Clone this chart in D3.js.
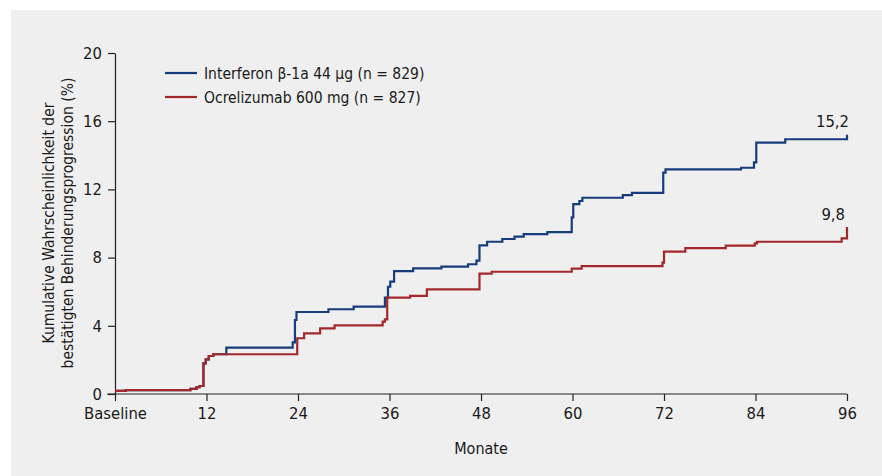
<!DOCTYPE html>
<html>
<head>
<meta charset="utf-8">
<script src="https://cdn.jsdelivr.net/npm/d3@7"></script>
<style>
  body { margin: 0; background: #fff; }
  svg { display: block; }
  text { font-family: "Liberation Sans Narrow", "Arial Narrow", "DejaVu Sans Condensed", sans-serif; fill: #1a1a1a; }
</style>
</head>
<body>
<script>
// Kaplan-Meier Stufen (Monat, kumulative Wahrscheinlichkeit %)
const ocreMonths = [0, 1.4, 9.9, 10.7, 11.1, 11.6, 11.9, 12.3, 12.9, 23.9, 24.8, 26.9, 28.8, 35.1, 35.4, 35.7, 38.7, 40.9, 47.8, 49.4, 59.9, 61.2, 71.8, 72.0, 74.8, 80.1, 83.9, 84.2, 95.3, 96];
const ocreValues = [0.18, 0.23, 0.3, 0.4, 0.47, 1.8, 2.03, 2.23, 2.33, 3.27, 3.56, 3.85, 4.03, 4.24, 4.38, 5.65, 5.75, 6.14, 7.06, 7.17, 7.35, 7.5, 7.7, 8.35, 8.55, 8.7, 8.84, 8.93, 9.13, 9.8];

const ifnMonths = [0, 1.4, 9.9, 10.7, 11.1, 11.6, 11.9, 12.3, 12.9, 14.6, 23.3, 23.6, 23.8, 28.0, 31.3, 35.4, 35.8, 36.1, 36.6, 39.1, 42.8, 46.3, 47.4, 47.8, 48.8, 50.8, 52.4, 53.6, 56.7, 59.9, 60.1, 60.9, 61.3, 66.6, 67.8, 71.9, 72.2, 82.1, 83.8, 84.1, 87.9, 96];
const ifnValues = [0.18, 0.23, 0.3, 0.4, 0.47, 1.8, 2.03, 2.23, 2.33, 2.72, 3.03, 4.34, 4.81, 4.97, 5.12, 5.65, 6.29, 6.59, 7.21, 7.37, 7.47, 7.61, 7.82, 8.72, 8.93, 9.09, 9.23, 9.38, 9.5, 10.36, 11.14, 11.32, 11.51, 11.67, 11.8, 12.98, 13.17, 13.27, 13.59, 14.74, 14.94, 15.2];

const xTicks = [0, 12, 24, 36, 48, 60, 72, 84, 96];
const yTicks = [0, 4, 8, 12, 16, 20];
const seriesNames = ["Interferon β-1a 44 µg (n = 829)", "Ocrelizumab 600 mg (n = 827)"];
const endLabels = ["15,2", "9,8"];

const w = 882, h = 476;
const blue = "#173c7c", red = "#a3282b";
const fs = 15.5;

const svg = d3.select("body").append("svg")
  .attr("width", w)
  .attr("height", h);

svg.append("rect")
  .attr("x", 11).attr("y", 10)
  .attr("width", w - 11).attr("height", h - 10)
  .attr("fill", "#efefef");

const x = d3.scaleLinear().domain([0, 96]).range([115, 847]);
const y = d3.scaleLinear().domain([0, 20]).range([394, 53]);

// Achsen
const xAxis = d3.axisBottom(x)
  .tickValues(xTicks)
  .tickSize(7)
  .tickSizeOuter(0)
  .tickPadding(6)
  .tickFormat(d => d === 0 ? "Baseline" : d);

const gx = svg.append("g")
  .attr("transform", "translate(0," + y(0) + ")")
  .call(xAxis);

const yAxis = d3.axisLeft(y)
  .tickValues(yTicks)
  .tickSize(7)
  .tickSizeOuter(0)
  .tickPadding(6);

const gy = svg.append("g")
  .attr("transform", "translate(" + x(0) + ",0)")
  .call(yAxis);

[gx, gy].forEach(g => {
  g.selectAll("path, line").attr("stroke", "#222").attr("stroke-width", 1.2);
  g.selectAll("text")
    .attr("font-family", "Liberation Sans Narrow, Arial Narrow, DejaVu Sans Condensed, sans-serif")
    .attr("font-size", 16.5)
    .attr("fill", "#1a1a1a");
});
// x-Linie nach links bis unter die y-Ticks
gx.select(".domain").attr("d", "M" + (x(0) - 8) + ",0H" + x(96));

svg.append("text")
  .attr("x", 481)
  .attr("y", 454)
  .attr("text-anchor", "middle")
  .attr("font-size", 16)
  .text("Monate");

const yl = svg.append("text")
  .attr("transform", "translate(54,223) rotate(-90)")
  .attr("text-anchor", "middle")
  .attr("font-size", fs);
yl.append("tspan").attr("x", 0).attr("dy", 0).text("Kumulative Wahrscheinlichkeit der");
yl.append("tspan").attr("x", 0).attr("dy", 19).text("bestätigten Behinderungsprogression (%)");

// Kurven
const line = d3.line()
  .x(d => x(d[0]))
  .y(d => y(d[1]))
  .curve(d3.curveStepAfter);

const ifn = ifnMonths.map((m, i) => [m, ifnValues[i]]);
const ocre = ocreMonths.map((m, i) => [m, ocreValues[i]]);

svg.append("path")
  .datum(ifn)
  .attr("d", line)
  .attr("fill", "none")
  .attr("stroke", blue)
  .attr("stroke-width", 2.2);

svg.append("path")
  .datum(ocre)
  .attr("d", line)
  .attr("fill", "none")
  .attr("stroke", red)
  .attr("stroke-width", 2.2);

// Endwerte
svg.append("text")
  .attr("x", 849).attr("y", 127)
  .attr("text-anchor", "end")
  .attr("font-size", 16.5)
  .text(endLabels[0]);

svg.append("text")
  .attr("x", 845).attr("y", 220)
  .attr("text-anchor", "end")
  .attr("font-size", 16.5)
  .text(endLabels[1]);

// Legende
const legend = svg.append("g");
[blue, red].forEach((c, i) => {
  const ly = 73 + i * 24;
  legend.append("line")
    .attr("x1", 165).attr("x2", 197)
    .attr("y1", ly).attr("y2", ly)
    .attr("stroke", c)
    .attr("stroke-width", 2.2);
  legend.append("text")
    .attr("x", 204).attr("y", ly + 6)
    .attr("font-size", fs)
    .text(seriesNames[i]);
});
</script>
</body>
</html>
